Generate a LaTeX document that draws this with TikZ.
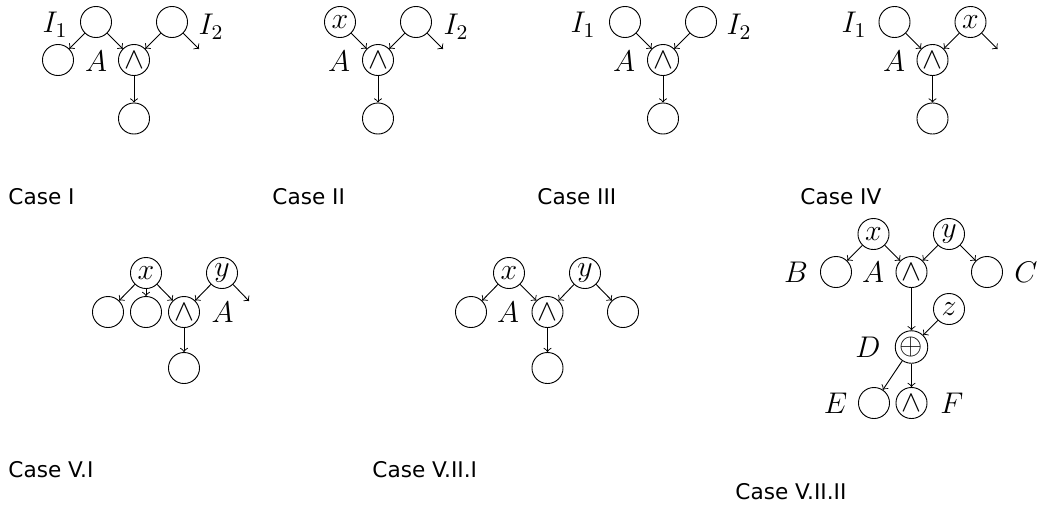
\RequirePackage{fix-cm}
\documentclass[tikz,border=0pt]{standalone}
\usepackage{fontspec}
\newfontfamily\capfont{DejaVu Sans}
\begin{document}
\begin{tikzpicture}[x=0.4348pt,y=-0.4348pt,
  nd/.style={circle,draw,minimum size=13.5pt,inner sep=0.3pt,font=\fontsize{13}{15}\selectfont},
  lb/.style={inner sep=0pt,font=\fontsize{13}{15}\selectfont},
  captxt/.style={anchor=base west,inner sep=0pt,font=\capfont\fontsize{9.4}{11}\selectfont},
  ar/.style={->}]
\useasboundingbox (0,0) rectangle (1039,506);
% ---------- Case I
\node[nd] (a1) at (96,22) {};
\node[nd] (b1) at (58,60) {};
\node[nd] (g1) at (134,60) {$\wedge$};
\node[nd] (c1) at (172,22) {};
\node[nd] (d1) at (134,118.5) {};
\coordinate (e1) at (199,49);
\node[lb] (i11) at (55,25) {$I_1$};
\node[lb] (i12) at (211,27) {$I_2$};
\node[lb] (A1) at (96,61) {$A$};
\draw[ar] (a1) -- (b1);
\draw[ar] (a1) -- (g1);
\draw[ar] (c1) -- (g1);
\draw[ar] (c1) -- (e1);
\draw[ar] (g1) -- (d1);
\node[captxt] (k1) at (8,204.5) {Case I};
% ---------- Case II
\node[nd] (x2) at (340,22) {$x$};
\node[nd] (c2) at (416,22) {};
\node[nd] (g2) at (378,60) {$\wedge$};
\node[nd] (d2) at (378,118.5) {};
\coordinate (e2) at (443,49);
\node[lb] (A2) at (339,61) {$A$};
\node[lb] (i22) at (456,27) {$I_2$};
\draw[ar] (x2) -- (g2);
\draw[ar] (c2) -- (g2);
\draw[ar] (c2) -- (e2);
\draw[ar] (g2) -- (d2);
\node[captxt] (k2) at (272,204.5) {Case II};
% ---------- Case III
\node[nd] (a3) at (625,22) {};
\node[nd] (c3) at (701,22) {};
\node[nd] (g3) at (663,60) {$\wedge$};
\node[nd] (d3) at (663,118.5) {};
\node[lb] (i31) at (583,25) {$I_1$};
\node[lb] (i32) at (739,27) {$I_2$};
\node[lb] (A3) at (624,61) {$A$};
\draw[ar] (a3) -- (g3);
\draw[ar] (c3) -- (g3);
\draw[ar] (g3) -- (d3);
\node[captxt] (k3) at (537,204.5) {Case III};
% ---------- Case IV
\node[nd] (a4) at (894.5,22) {};
\node[nd] (x4) at (970.5,22) {$x$};
\node[nd] (g4) at (932.5,60) {$\wedge$};
\node[nd] (d4) at (932.5,118.5) {};
\coordinate (e4) at (997.5,49);
\node[lb] (i41) at (854,25) {$I_1$};
\node[lb] (A4) at (894,61) {$A$};
\draw[ar] (a4) -- (g4);
\draw[ar] (x4) -- (g4);
\draw[ar] (x4) -- (e4);
\draw[ar] (g4) -- (d4);
\node[captxt] (k4) at (800,204.5) {Case IV};
% ---------- Case V.I
\node[nd] (x5) at (146,273) {$x$};
\node[nd] (y5) at (222,273) {$y$};
\node[nd] (l5) at (108,312) {};
\node[nd] (m5) at (146,312) {};
\node[nd] (g5) at (184,312) {$\wedge$};
\node[nd] (d5) at (184,368) {};
\coordinate (e5) at (249,301);
\node[lb] (A5) at (222.5,312.5) {$A$};
\draw[ar] (x5) -- (l5);
\draw[ar] (x5) -- (m5);
\draw[ar] (x5) -- (g5);
\draw[ar] (y5) -- (g5);
\draw[ar] (y5) -- (e5);
\draw[ar] (g5) -- (d5);
\node[captxt] (k5) at (8,477.5) {Case V.I};
% ---------- Case V.II.I
\node[nd] (x6) at (509,273) {$x$};
\node[nd] (y6) at (585,273) {$y$};
\node[nd] (l6) at (471,312) {};
\node[nd] (g6) at (547.5,312) {$\wedge$};
\node[nd] (r6) at (623,312) {};
\node[nd] (d6) at (547.5,368) {};
\node[lb] (A6) at (508,312.5) {$A$};
\draw[ar] (x6) -- (l6);
\draw[ar] (x6) -- (g6);
\draw[ar] (y6) -- (g6);
\draw[ar] (y6) -- (r6);
\draw[ar] (g6) -- (d6);
\node[captxt] (k6) at (372,477.5) {Case V.II.I};
% ---------- Case V.II.II
\node[nd] (x7) at (873.5,234) {$x$};
\node[nd] (y7) at (949,234) {$y$};
\node[nd] (b7) at (836,272) {};
\node[nd] (g7) at (911.5,272) {$\wedge$};
\node[nd] (c7) at (987,272) {};
\node[nd] (z7) at (949,309) {$z$};
\node[nd] (p7) at (911.5,347) {$\oplus$};
\node[nd] (e7) at (874,403) {};
\node[nd] (f7) at (911.5,403) {$\wedge$};
\node[lb] (B7) at (796,272.5) {$B$};
\node[lb] (A7) at (873,272.5) {$A$};
\node[lb] (C7) at (1026,272.5) {$C$};
\node[lb] (D7) at (868,347) {$D$};
\node[lb] (E7) at (835.5,403) {$E$};
\node[lb] (F7) at (952,403) {$F$};
\draw[ar] (x7) -- (b7);
\draw[ar] (x7) -- (g7);
\draw[ar] (y7) -- (g7);
\draw[ar] (y7) -- (c7);
\draw[ar] (g7) -- (p7);
\draw[ar] (z7) -- (p7);
\draw[ar] (p7) -- (e7);
\draw[ar] (p7) -- (f7);
\node[captxt] (k7) at (735,499.5) {Case V.II.II};
\end{tikzpicture}
\end{document}
